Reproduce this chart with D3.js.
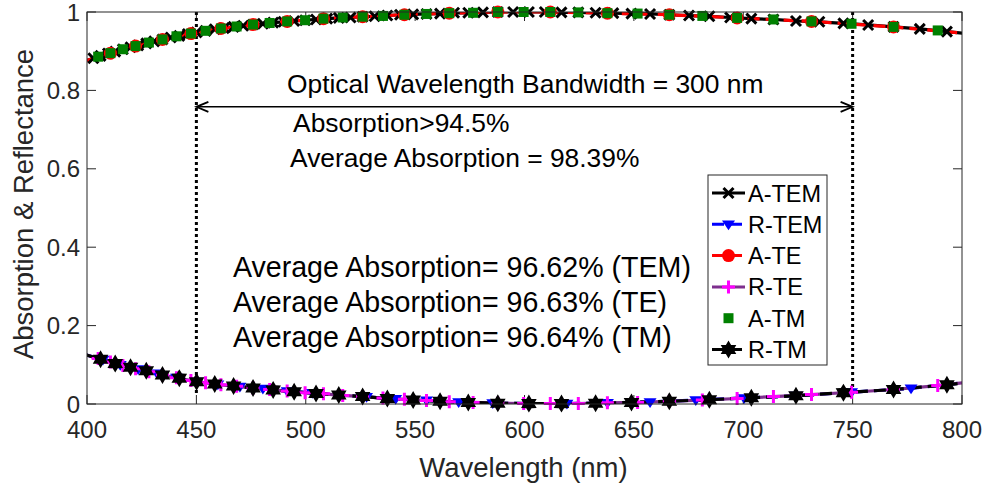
<!DOCTYPE html>
<html>
<head>
<meta charset="utf-8">
<script src="https://cdn.jsdelivr.net/npm/d3@7"></script>
<style>
  body { margin: 0; background: #fff; }
  svg { display: block; font-family: "Liberation Sans", Arial, sans-serif; }
</style>
</head>
<body>
<svg id="chart"></svg>
<script>
// ---- data ----
var xTicks = [400, 450, 500, 550, 600, 650, 700, 750, 800];
var yTicks = [0, 0.2, 0.4, 0.6, 0.8, 1];

// A-TEM (6 THz steps)
var wlATEM = [399.7, 402.9, 406.2, 409.6, 412.9, 416.4, 419.9, 423.4, 427.1, 430.7,
              434.5, 438.3, 442.2, 446.1, 450.1, 454.2, 458.4, 462.6, 467.0, 471.4,
              475.9, 480.4, 485.1, 489.9, 494.7, 499.7, 504.7, 509.8, 515.1, 520.5,
              526.0, 531.5, 537.3, 543.1, 549.1, 555.2, 561.4, 567.8, 574.3, 581.0,
              587.8, 594.8, 602.0, 609.3, 616.9, 624.6, 632.5, 640.6, 648.9, 657.4,
              666.2, 675.2, 684.5, 694.0, 703.7, 713.8, 724.1, 734.8, 745.8, 757.1,
              768.7, 780.7, 793.1, 805.9];
var aTEM = [0.876, 0.882, 0.888, 0.894, 0.899, 0.905, 0.910, 0.915, 0.920, 0.925,
            0.930, 0.935, 0.939, 0.944, 0.948, 0.952, 0.956, 0.959, 0.962, 0.965,
            0.968, 0.970, 0.973, 0.975, 0.977, 0.979, 0.981, 0.983, 0.985, 0.986,
            0.988, 0.989, 0.991, 0.993, 0.994, 0.995, 0.996, 0.998, 0.998, 0.999,
            1.000, 1.000, 1.000, 1.000, 0.999, 0.999, 0.998, 0.997, 0.996, 0.995,
            0.993, 0.991, 0.989, 0.986, 0.983, 0.981, 0.977, 0.975, 0.971, 0.967,
            0.962, 0.957, 0.950, 0.943];

// R-TEM (14 THz steps)
var wlRTEM = [399.7, 407.3, 415.2, 423.4, 432.0, 440.9, 450.1, 459.8, 469.9, 480.4,
              491.5, 503.0, 515.1, 527.8, 541.1, 555.2, 569.9, 585.5, 602.0, 619.4,
              637.9, 657.4, 678.3, 700.4, 724.1, 749.5, 776.7, 805.9];
var rTEM = [0.125, 0.113, 0.100, 0.089, 0.078, 0.067, 0.057, 0.050, 0.044, 0.039,
            0.033, 0.028, 0.023, 0.018, 0.013, 0.009, 0.005, 0.002, 0.001, 0.001,
            0.003, 0.005, 0.010, 0.015, 0.021, 0.030, 0.040, 0.057];

// A-TE (20 THz steps)
var wlATE = [399.7, 410.7, 422.2, 434.5, 447.5, 461.2, 475.9, 491.5, 508.1, 526.0,
             545.1, 565.6, 587.8, 611.8, 637.9, 666.2, 697.2, 731.2, 768.7, 810.2];
var aTE = [0.876, 0.895, 0.913, 0.930, 0.945, 0.958, 0.968, 0.976, 0.983, 0.988,
           0.993, 0.997, 1.000, 1.000, 0.997, 0.993, 0.985, 0.976, 0.962, 0.941];

// R-TE and A-TM (10 THz steps)
var wl10 = [399.7, 405.1, 410.7, 416.4, 422.2, 428.3, 434.5, 440.9, 447.5, 454.2,
            461.2, 468.4, 475.9, 483.5, 491.5, 499.7, 508.1, 516.9, 526.0, 535.3,
            545.1, 555.2, 565.6, 576.5, 587.8, 599.6, 611.8, 624.6, 637.9, 651.7,
            666.2, 681.3, 697.2, 713.8, 731.2, 749.5, 768.7, 788.9, 810.2];
var rTE = [0.125, 0.116, 0.107, 0.098, 0.090, 0.082, 0.074, 0.067, 0.060, 0.054,
           0.049, 0.045, 0.041, 0.037, 0.033, 0.029, 0.026, 0.022, 0.019, 0.015,
           0.012, 0.009, 0.006, 0.004, 0.002, 0.001, 0.001, 0.001, 0.003, 0.004,
           0.007, 0.010, 0.014, 0.019, 0.024, 0.030, 0.037, 0.047, 0.060];
var aTM = [0.876, 0.886, 0.895, 0.905, 0.913, 0.922, 0.930, 0.938, 0.945, 0.952,
           0.958, 0.963, 0.968, 0.972, 0.976, 0.979, 0.983, 0.986, 0.988, 0.990,
           0.993, 0.995, 0.997, 0.998, 1.000, 1.000, 1.000, 0.999, 0.997, 0.996,
           0.993, 0.990, 0.985, 0.981, 0.976, 0.970, 0.962, 0.953, 0.941];

// R-TM (12 THz steps)
var wlRTM = [399.7, 406.2, 412.9, 419.9, 427.1, 434.5, 442.2, 450.1, 458.4, 467.0,
             475.9, 485.1, 494.7, 504.7, 515.1, 526.0, 537.3, 549.1, 561.4, 574.3,
             587.8, 602.0, 616.9, 632.5, 648.9, 666.2, 684.5, 703.7, 724.1, 745.8,
             768.7, 793.1, 819.1];
var rTM = [0.125, 0.114, 0.103, 0.094, 0.085, 0.074, 0.066, 0.057, 0.051, 0.046,
           0.041, 0.036, 0.031, 0.027, 0.023, 0.019, 0.014, 0.010, 0.007, 0.004,
           0.002, 0.001, 0.001, 0.002, 0.004, 0.007, 0.011, 0.016, 0.021, 0.029,
           0.037, 0.049, 0.064];

var bandEdges = [450, 750];

var series = [
  {name: "A-TEM", wl: wlATEM, v: aTEM, line: "#000000", dash: null,   marker: "x",    mcolor: "#000000"},
  {name: "R-TEM", wl: wlRTEM, v: rTEM, line: "#0000ff", dash: "12,6", marker: "tri",  mcolor: "#0000ff"},
  {name: "A-TE",  wl: wlATE,  v: aTE,  line: "#ff0000", dash: "12,6", marker: "circ", mcolor: "#ff0000"},
  {name: "R-TE",  wl: wl10,   v: rTE,  line: "#7e2f8e", dash: null,   marker: "plus", mcolor: "#ff00ff"},
  {name: "A-TM",  wl: wl10,   v: aTM,  line: null,      dash: null,   marker: "sq",   mcolor: "#008000"},
  {name: "R-TM",  wl: wlRTM,  v: rTM,  line: "#000000", dash: "12,6", marker: "hex",  mcolor: "#000000"}
];

// ---- layout ----
var W = 989, H = 485;
var margin = {top: 12, right: 27, bottom: 81, left: 87},
    width = W - margin.left - margin.right,
    height = H - margin.top - margin.bottom;
var axisColor = "#262626";

var root = d3.select("#chart").attr("width", W).attr("height", H);
var svg = root.append("g")
    .attr("transform", "translate(" + margin.left + "," + margin.top + ")");

var x = d3.scaleLinear().domain([400, 800]).range([0, width]);
var y = d3.scaleLinear().domain([0, 1]).range([height, 0]);

svg.append("clipPath").attr("id", "plotclip")
  .append("rect").attr("width", width).attr("height", height);

// tick marks (inside, on all four sides like matlab "box on")
var tickLen = 9;
var ticksG = svg.append("g").attr("stroke", axisColor).attr("stroke-width", 1);
xTicks.forEach(function(t) {
  ticksG.append("line").attr("x1", x(t)).attr("x2", x(t)).attr("y1", height).attr("y2", height - tickLen);
  ticksG.append("line").attr("x1", x(t)).attr("x2", x(t)).attr("y1", 0).attr("y2", tickLen);
});
yTicks.forEach(function(t) {
  ticksG.append("line").attr("x1", 0).attr("x2", tickLen).attr("y1", y(t)).attr("y2", y(t));
  ticksG.append("line").attr("x1", width).attr("x2", width - tickLen).attr("y1", y(t)).attr("y2", y(t));
});

// tick labels
svg.append("g").selectAll("text").data(xTicks).enter().append("text")
  .attr("x", function(d) { return x(d); })
  .attr("y", height + 34)
  .attr("text-anchor", "middle")
  .attr("fill", axisColor)
  .style("font-size", "24px")
  .text(function(d) { return d; });
svg.append("g").selectAll("text").data(yTicks).enter().append("text")
  .attr("x", -7)
  .attr("y", function(d) { return y(d) + 8.5; })
  .attr("text-anchor", "end")
  .attr("fill", axisColor)
  .style("font-size", "24px")
  .text(function(d) { return d; });

// axis labels
svg.append("text")
  .attr("x", width / 2 - 1)
  .attr("y", height + 73)
  .attr("text-anchor", "middle")
  .attr("fill", axisColor)
  .style("font-size", "27.5px")
  .text("Wavelength (nm)");
svg.append("text")
  .attr("transform", "translate(" + (-54) + "," + (height / 2 - 4) + ") rotate(-90)")
  .attr("text-anchor", "middle")
  .attr("fill", axisColor)
  .style("font-size", "27.5px")
  .text("Absorption & Reflectance");

// band edges (dotted)
svg.append("g").selectAll("line").data(bandEdges).enter().append("line")
  .attr("x1", function(d) { return x(d); })
  .attr("x2", function(d) { return x(d); })
  .attr("y1", y(1))
  .attr("y2", y(0.025))
  .attr("stroke", "#000")
  .attr("stroke-width", 3)
  .attr("stroke-dasharray", "3,3");

// markers
function markerPath(type, r) {
  if (type === "x") return "M" + (-r) + "," + (-r) + "L" + r + "," + r + "M" + (-r) + "," + r + "L" + r + "," + (-r);
  if (type === "plus") return "M" + (-r) + ",0L" + r + ",0M0," + (-r) + "L0," + r;
  if (type === "tri") return "M" + (-r) + "," + (-r * 0.6) + "L" + r + "," + (-r * 0.6) + "L0," + (r * 0.9) + "Z";
  if (type === "hex") {
    var pts = [];
    for (var i = 0; i < 12; i++) {
      var a = -Math.PI / 2 + i * Math.PI / 6;
      var rr = (i % 2 === 0) ? r : r * 0.58;
      pts.push([rr * Math.cos(a), rr * Math.sin(a)]);
    }
    return "M" + pts.map(function(p) { return p[0].toFixed(2) + "," + p[1].toFixed(2); }).join("L") + "Z";
  }
  return null;
}

function drawMarker(g, type, color, cx, cy) {
  if (type === "circ") {
    g.append("circle").attr("cx", cx).attr("cy", cy).attr("r", 6.5).attr("fill", color);
  } else if (type === "sq") {
    g.append("rect").attr("x", cx - 5).attr("y", cy - 5).attr("width", 10).attr("height", 10).attr("fill", color);
  } else if (type === "x" || type === "plus") {
    g.append("path").attr("transform", "translate(" + cx + "," + cy + ")")
      .attr("d", markerPath(type, type === "x" ? 5 : 6.5))
      .attr("fill", "none").attr("stroke", color).attr("stroke-width", 3);
  } else if (type === "tri") {
    g.append("path").attr("transform", "translate(" + cx + "," + cy + ")")
      .attr("d", markerPath(type, 6.5)).attr("fill", color);
  } else if (type === "hex") {
    g.append("path").attr("transform", "translate(" + cx + "," + cy + ")")
      .attr("d", markerPath(type, 9)).attr("fill", color);
  }
}

var plot = svg.append("g").attr("clip-path", "url(#plotclip)");
series.forEach(function(s) {
  var pts = s.wl.map(function(w, i) { return [w, s.v[i]]; });
  if (s.line) {
    plot.append("path")
      .datum(pts)
      .attr("fill", "none")
      .attr("stroke", s.line)
      .attr("stroke-width", 3.2)
      .attr("stroke-dasharray", s.dash)
      .attr("d", d3.line().x(function(d) { return x(d[0]); }).y(function(d) { return y(d[1]); }));
  }
  var mg = svg.append("g");
  pts.filter(function(d) { return d[0] >= 400 && d[0] <= 800; }).forEach(function(d) {
    drawMarker(mg, s.marker, s.mcolor, x(d[0]), y(d[1]));
  });
});

// box
svg.append("rect")
  .attr("width", width).attr("height", height)
  .attr("fill", "none").attr("stroke", axisColor).attr("stroke-width", 1);

// double arrow for the bandwidth
var arrowY = y(0.758);
var ax1 = x(bandEdges[0]), ax2 = x(bandEdges[1]);
svg.append("line").attr("x1", ax1 + 2).attr("x2", ax2 - 2).attr("y1", arrowY).attr("y2", arrowY)
  .attr("stroke", "#000").attr("stroke-width", 1.5);
[[ax1, 1], [ax2, -1]].forEach(function(p) {
  var tx = p[0], dir = p[1];
  svg.append("path")
    .attr("d", "M" + (tx + dir * 12) + "," + (arrowY - 5) + "L" + tx + "," + arrowY +
               "L" + (tx + dir * 12) + "," + (arrowY + 5))
    .attr("fill", "none").attr("stroke", "#000").attr("stroke-width", 1.8);
});

// annotations
var notes = [
  {t: "Optical Wavelength Bandwidth = 300 nm", wl: 491.4, v: 0.7934, size: 26.4},
  {t: "Absorption>94.5%",                      wl: 494.2, v: 0.694,  size: 26.4},
  {t: "Average Absorption = 98.39%",           wl: 492.8, v: 0.6046, size: 26.4},
  {t: "Average Absorption= 96.62% (TEM)",      wl: 466.7, v: 0.324,  size: 28.6},
  {t: "Average Absorption= 96.63% (TE)",       wl: 466.7, v: 0.2347, size: 28.6},
  {t: "Average Absorption= 96.64% (TM)",       wl: 466.7, v: 0.1454, size: 28.6}
];
svg.append("g").selectAll("text").data(notes).enter().append("text")
  .attr("x", function(d) { return x(d.wl); })
  .attr("y", function(d) { return y(d.v); })
  .attr("fill", "#000")
  .style("font-size", function(d) { return d.size + "px"; })
  .text(function(d) { return d.t; });

// legend
var lg = root.append("g").attr("transform", "translate(708,175)");
lg.append("rect").attr("width", 119).attr("height", 190)
  .attr("fill", "#fff").attr("stroke", axisColor).attr("stroke-width", 1);
series.forEach(function(s, i) {
  var cy = 18 + i * 31.3;
  if (s.line) {
    lg.append("line").attr("x1", 4).attr("x2", 37).attr("y1", cy).attr("y2", cy)
      .attr("stroke", s.line).attr("stroke-width", 3).attr("stroke-dasharray", s.dash);
  }
  drawMarker(lg, s.marker, s.mcolor, 20.5, cy);
  lg.append("text").attr("x", 40).attr("y", cy + 8.5)
    .attr("fill", "#000").style("font-size", "23.5px").text(s.name);
});
</script>
</body>
</html>
